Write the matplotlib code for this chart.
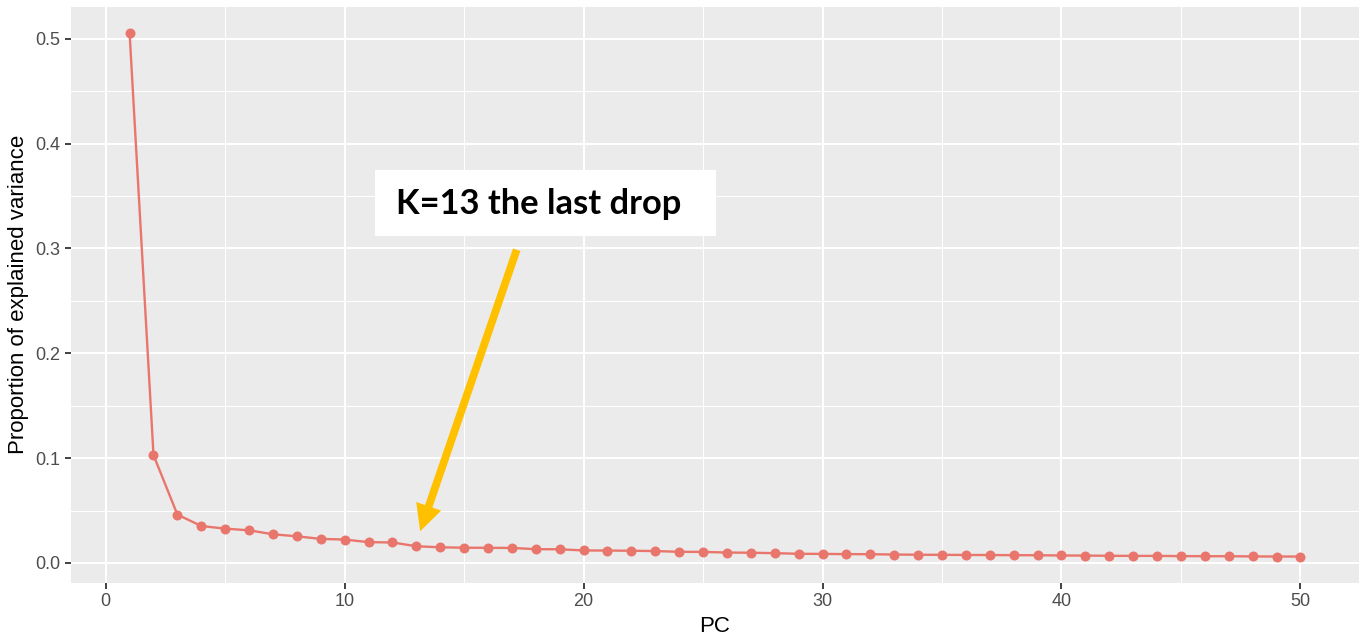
import matplotlib
matplotlib.use("Agg")
import matplotlib.pyplot as plt
from matplotlib.patches import Rectangle
from matplotlib.ticker import MultipleLocator

# Proportion of variance explained by each principal component
pc = list(range(1, 51))
explained = [
    0.5054, 0.1029, 0.0461, 0.0352, 0.0327, 0.0311, 0.0273, 0.0254, 0.0229, 0.0223,
    0.0198, 0.0195, 0.0159, 0.0149, 0.0145, 0.0144, 0.0143, 0.0131, 0.0130, 0.0119,
    0.0118, 0.0116, 0.0113, 0.0106, 0.0105, 0.0099, 0.0097, 0.0093, 0.0087, 0.0086,
    0.0084, 0.0083, 0.0080, 0.0078, 0.0077, 0.0076, 0.0075, 0.0074, 0.0073, 0.0071,
    0.0070, 0.0068, 0.0067, 0.0067, 0.0065, 0.0064, 0.0064, 0.0062, 0.0061, 0.0061,
]
x_ticks = [0, 10, 20, 30, 40, 50]
y_ticks = [0.0, 0.1, 0.2, 0.3, 0.4, 0.5]
y_ticklabels = ["0.0", "0.1", "0.2", "0.3", "0.4", "0.5"]
note = "K=13 the last drop"
note_pc = 13

plt.rcParams["font.family"] = ["Liberation Sans", "DejaVu Sans"]

fig = plt.figure(figsize=(13.64, 6.38), dpi=100)
ax = fig.add_axes([0.0521, 0.0867, 0.9442, 0.9023])
ax.set_facecolor("#EBEBEB")

ax.plot(pc, explained, color="#E9766C", lw=1.7, marker="o", ms=7.2,
        markeredgewidth=0, zorder=3)

# ggplot-like expansion of the limits
x_lo, x_hi = min(pc), max(pc)
y_lo, y_hi = min(explained), max(explained)
ax.set_xlim(x_lo - 0.05 * (x_hi - x_lo), x_hi + 0.05 * (x_hi - x_lo))
ax.set_ylim(y_lo - 0.05 * (y_hi - y_lo), y_hi + 0.05 * (y_hi - y_lo))

ax.set_xticks(x_ticks)
ax.set_yticks(y_ticks)
ax.set_yticklabels(y_ticklabels)
ax.xaxis.set_minor_locator(MultipleLocator(5))
ax.yaxis.set_minor_locator(MultipleLocator(0.05))
ax.grid(which="major", color="white", lw=1.5)
ax.grid(which="minor", color="white", lw=0.75)
ax.set_axisbelow(True)
for s in ax.spines.values():
    s.set_visible(False)
ax.tick_params(which="major", length=4.5, width=1.3, color="#333333",
               labelsize=13, labelcolor="#4D4D4D", pad=3)
ax.tick_params(which="minor", length=0)

ax.set_xlabel("PC", fontsize=16, color="black", labelpad=4)
ax.set_ylabel("Proportion of explained variance", fontsize=16, color="black", labelpad=5)

# Callout box and arrow
ax.add_patch(Rectangle((11.28, 0.3121), 14.28, 0.0629, facecolor="white",
                       edgecolor="none", zorder=4))
ax.text(12.15, 0.3425, note, fontsize=24.8, fontweight="bold",
        family=["Lato", "DejaVu Sans"], va="center", ha="left", zorder=5)
ax.annotate("", xy=(note_pc + 0.16, 0.0302), xytext=(17.2, 0.2988),
            arrowprops=dict(facecolor="#FFC000", edgecolor="none", width=5.6,
                            headwidth=19, headlength=19, shrink=0),
            zorder=5)

fig.savefig("out.png", dpi=100, facecolor="white")
